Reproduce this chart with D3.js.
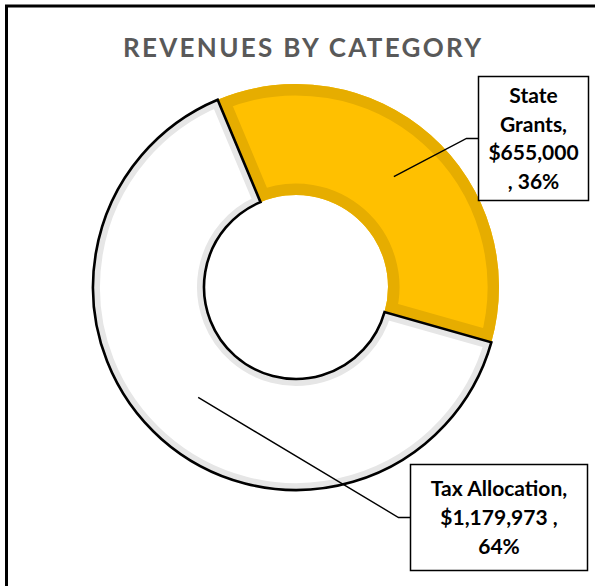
<!DOCTYPE html>
<html>
<head>
<meta charset="utf-8">
<script src="https://cdn.jsdelivr.net/npm/d3@7"></script>
<style>
  html, body { margin: 0; padding: 0; background: #fff; }
  svg { display: block; }
</style>
</head>
<body>
<div id="chart"></div>
<script>
// data
const categories = ["Tax Allocation", "State Grants"];
const amounts = [1179973, 655000];
const amountLabels = ["$1,179,973 ,", "$655,000"];
const percentLabels = ["64%", "36%"];
const title = "REVENUES BY CATEGORY";

const width = 595;
const height = 586;

const svg = d3.select("#chart")
  .append("svg")
  .attr("width", width)
  .attr("height", height);

// outer chart frame (runs off the right/bottom edges)
svg.append("rect")
  .attr("x", 6.5)
  .attr("y", 6)
  .attr("width", 1000)
  .attr("height", 1000)
  .attr("fill", "#fff")
  .attr("stroke", "#000")
  .attr("stroke-width", 3);

svg.append("text")
  .attr("x", 302)
  .attr("y", 57)
  .attr("text-anchor", "middle")
  .attr("font-family", "Lato, 'Open Sans', sans-serif")
  .attr("font-weight", "bold")
  .attr("font-size", 26)
  .attr("fill", "#595959")
  .attr("textLength", 358)
  .attr("lengthAdjust", "spacing")
  .text(title);

// donut geometry
const cx = 296, cy = 287;
const outerR = 203, innerR = 92;
const start = 105.8 * Math.PI / 180;

const data = categories.map((c, i) => ({ category: c, value: amounts[i] }));
const fills = { "Tax Allocation": "#ffffff", "State Grants": "#ffc000" };
const bands = { "Tax Allocation": "#e6e6e6", "State Grants": "#e6ad00" };
const bandWidth = { "Tax Allocation": 7, "State Grants": 11.5 };

const pie = d3.pie()
  .sort(null)
  .value((d) => d.value)
  .startAngle(start)
  .endAngle(start + 2 * Math.PI);

const arc = d3.arc().innerRadius(innerR).outerRadius(outerR);
const arcs = pie(data);

const g = svg.append("g").attr("transform", `translate(${cx},${cy})`);
const defs = svg.append("defs");

// draw yellow first so white slice outline sits on top
const order = [1, 0];
order.forEach((i) => {
  const d = arcs[i];
  const key = d.data.category;
  const clipId = "clip-" + i;
  defs.append("clipPath").attr("id", clipId)
    .append("path").attr("d", arc(d)).attr("transform", `translate(${cx},${cy})`);

  g.append("path")
    .attr("d", arc(d))
    .attr("fill", fills[key]);

  // inner band along the slice edges
  svg.append("g").attr("clip-path", `url(#${clipId})`)
    .append("path")
    .attr("transform", `translate(${cx},${cy})`)
    .attr("d", arc(d))
    .attr("fill", "none")
    .attr("stroke", bands[key])
    .attr("stroke-width", bandWidth[key] * 2)
    .attr("stroke-linejoin", "miter");
});

// dark outline of the white slice, drawn last
svg.append("path")
  .attr("transform", `translate(${cx},${cy})`)
  .attr("d", arc(arcs[0]))
  .attr("fill", "none")
  .attr("stroke", "#000")
  .attr("stroke-width", 2.6)
  .attr("stroke-linejoin", "miter");

// data labels
const labelBoxes = [
  { x: 410.5, y: 464.5, w: 177, h: 106, lines: [categories[0] + ",", amountLabels[0], percentLabels[0]] },
  { x: 478.5, y: 76.5, w: 110, h: 124, lines: ["State", "Grants,", amountLabels[1], ", " + percentLabels[1]] }
];
const lineGap = 28.7;

arcs.forEach((d, i) => {
  const box = labelBoxes[i];
  const [px, py] = arc.centroid(d);
  const by = box.y + box.h / 2;
  svg.append("polyline")
    .attr("points", [[cx + px, cy + py], [box.x - 12, by], [box.x, by]].map((p) => p.join(",")).join(" "))
    .attr("fill", "none")
    .attr("stroke", "#000")
    .attr("stroke-width", 1.4);

  svg.append("rect")
    .attr("x", box.x)
    .attr("y", box.y)
    .attr("width", box.w)
    .attr("height", box.h)
    .attr("fill", "#fff")
    .attr("stroke", "#000")
    .attr("stroke-width", 1.5);

  const t = svg.append("text")
    .attr("text-anchor", "middle")
    .attr("font-family", "Lato, 'Open Sans', sans-serif")
    .attr("font-weight", "bold")
    .attr("font-size", 21)
    .attr("fill", "#000");
  const n = box.lines.length;
  box.lines.forEach((s, k) => {
    t.append("tspan")
      .attr("x", box.x + box.w / 2)
      .attr("y", by + (k - (n - 1) / 2) * lineGap + 7.5)
      .text(s);
  });
});
</script>
</body>
</html>
